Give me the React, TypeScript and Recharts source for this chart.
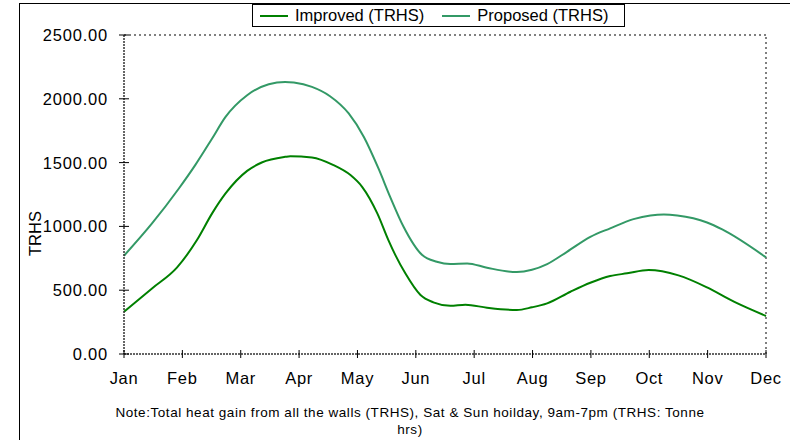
import React from 'react';
import { LineChart, Line, XAxis, YAxis, ReferenceLine, Legend } from 'recharts';

const months = ['Jan', 'Feb', 'Mar', 'Apr', 'May', 'Jun', 'Jul', 'Aug', 'Sep', 'Oct', 'Nov', 'Dec'];
const yTicks = [0, 500, 1000, 1500, 2000, 2500];

// month position (0 = Jan ... 11 = Dec) and value
const improvedMonth = [0, 0.48, 0.91, 1.25, 1.51, 1.74, 2.11, 2.36, 2.76, 2.85, 3.22, 3.59, 3.88, 4.08, 4.34, 4.53, 4.65, 4.82, 5.08, 5.3, 5.59, 5.85, 6.22, 6.73, 6.99, 7.25, 7.65, 7.99, 8.33, 8.62, 8.99, 9.5, 9.99, 10.45, 11];
const improvedValue = [331, 514, 679, 893, 1102, 1258, 1435, 1501, 1545, 1550, 1540, 1480, 1402, 1310, 1102, 893, 775, 632, 462, 405, 378, 386, 363, 345, 366, 397, 488, 558, 611, 632, 658, 616, 522, 410, 298];

const proposedMonth = [0, 0.48, 0.94, 1.22, 1.51, 1.74, 2.11, 2.48, 2.76, 2.91, 3.22, 3.53, 3.85, 4.11, 4.36, 4.56, 4.79, 5.11, 5.36, 5.59, 5.88, 6.22, 6.73, 6.99, 7.25, 7.59, 7.99, 8.33, 8.73, 9.02, 9.25, 9.48, 9.99, 10.25, 11];
const proposedValue = [770, 1023, 1297, 1480, 1689, 1858, 2028, 2114, 2132, 2127, 2093, 2020, 1885, 1701, 1454, 1232, 997, 775, 723, 705, 710, 676, 642, 660, 705, 801, 918, 985, 1057, 1086, 1094, 1086, 1031, 976, 757];

const improvedData = improvedMonth.map((m, i) => ({ m, v: improvedValue[i] }));
const proposedData = proposedMonth.map((m, i) => ({ m, v: proposedValue[i] }));

const FONT = '"Liberation Sans", Arial, sans-serif';

const XTick = (props: any) => {
  const { x, y, payload } = props;
  return (
    <g>
      <line x1={x} x2={x} y1={y - 4} y2={y + 4} stroke="#000" strokeWidth={1} />
      <text x={x} y={y + 30} textAnchor="middle" fontFamily={FONT} fontSize={16.5} letterSpacing={0.7} fill="#000">
        {months[payload.value]}
      </text>
    </g>
  );
};

const YTick = (props: any) => {
  const { x, y, payload } = props;
  return (
    <g>
      <line x1={x - 5} x2={x + 5} y1={y} y2={y} stroke="#000" strokeWidth={1} />
      <text x={x - 16} y={y} dy="0.36em" textAnchor="end" fontFamily={FONT} fontSize={16.5} letterSpacing={0.8} fill="#000">
        {Number(payload.value).toFixed(2)}
      </text>
    </g>
  );
};

const LegendContent = (props: any) => {
  const { payload } = props;
  return (
    <div
      style={{
        boxSizing: 'border-box',
        width: 373,
        height: 23,
        border: '1px solid #000',
        background: '#fff',
        display: 'flex',
        alignItems: 'center',
        fontFamily: FONT,
        fontSize: 16.5,
        color: '#000',
        paddingLeft: 7,
      }}
    >
      {(payload || []).map((p: any, i: number) => (
        <div key={i} style={{ display: 'flex', alignItems: 'center', marginRight: i === 0 ? 18 : 0 }}>
          <svg width={28} height={4} style={{ marginRight: 7 }}>
            <line x1={0} x2={28} y1={2} y2={2} stroke={p.color} strokeWidth={2} />
          </svg>
          <span style={{ whiteSpace: 'nowrap' }}>{p.value}</span>
        </div>
      ))}
    </div>
  );
};

const NoteLabel = () => (
  <g>
    <text x={410} y={417} textAnchor="middle" fontFamily={FONT} fontSize={13.5} letterSpacing={0.55} fill="#000">
      Note:Total heat gain from all the walls (TRHS), Sat &amp; Sun hoilday, 9am-7pm (TRHS: Tonne
    </text>
    <text x={410} y={434} textAnchor="middle" fontFamily={FONT} fontSize={13.5} letterSpacing={0.55} fill="#000">
      hrs)
    </text>
  </g>
);

const YLabel = (props: any) => {
  const vb = props.viewBox || { x: 20, y: 35, width: 104, height: 319 };
  const cx = vb.x + 15;
  const cy = vb.y + vb.height / 2 + 39;
  return (
    <text x={cx} y={cy} transform={`rotate(-90 ${cx} ${cy})`} textAnchor="middle" dy="0.36em" fontFamily={FONT} fontSize={16.5} fill="#000">
      TRHS
    </text>
  );
};

export default function App() {
  return (
    <div style={{ position: 'absolute', left: 0, top: 0, width: 790, height: 440, background: '#fff', overflow: 'hidden' }}>
      <div
        style={{
          position: 'absolute',
          left: 19,
          top: 3,
          width: 800,
          height: 500,
          borderTop: '1.5px solid #000',
          borderLeft: '1.5px solid #000',
        }}
      />
      <div style={{ position: 'absolute', left: 0, top: 0 }}>
        <LineChart width={790} height={440} margin={{ top: 35, right: 24, bottom: 56, left: 20 }}>
          <XAxis
            type="number"
            dataKey="m"
            domain={[0, 11]}
            ticks={[0, 1, 2, 3, 4, 5, 6, 7, 8, 9, 10, 11]}
            allowDuplicatedCategory={false}
            height={30}
            tickSize={0}
            tickMargin={0}
            tickLine={false}
            tick={<XTick />}
            axisLine={{ stroke: '#333', strokeWidth: 1.5, strokeDasharray: '2 1' }}
            label={<NoteLabel />}
          />
          <YAxis
            type="number"
            domain={[0, 2500]}
            ticks={yTicks}
            width={104}
            tickSize={0}
            tickMargin={0}
            tickLine={false}
            tick={<YTick />}
            axisLine={{ stroke: '#333', strokeWidth: 1.5, strokeDasharray: '2 1' }}
            label={<YLabel />}
          />
          <ReferenceLine y={2500} stroke="#808080" strokeWidth={2} strokeDasharray="2 3" />
          <ReferenceLine x={11} stroke="#808080" strokeWidth={2} strokeDasharray="2 3" />
          <Legend
            layout="vertical"
            align="center"
            verticalAlign="middle"
            wrapperStyle={{ position: 'absolute', top: 4, left: 252, width: 373, height: 23 }}
            content={<LegendContent />}
          />
          <Line
            data={improvedData}
            dataKey="v"
            name="Improved (TRHS)"
            type="monotone"
            stroke="#008000"
            strokeWidth={2}
            dot={false}
            isAnimationActive={false}
          />
          <Line
            data={proposedData}
            dataKey="v"
            name="Proposed (TRHS)"
            type="monotone"
            stroke="#339966"
            strokeWidth={2}
            dot={false}
            isAnimationActive={false}
          />
        </LineChart>
      </div>
    </div>
  );
}
